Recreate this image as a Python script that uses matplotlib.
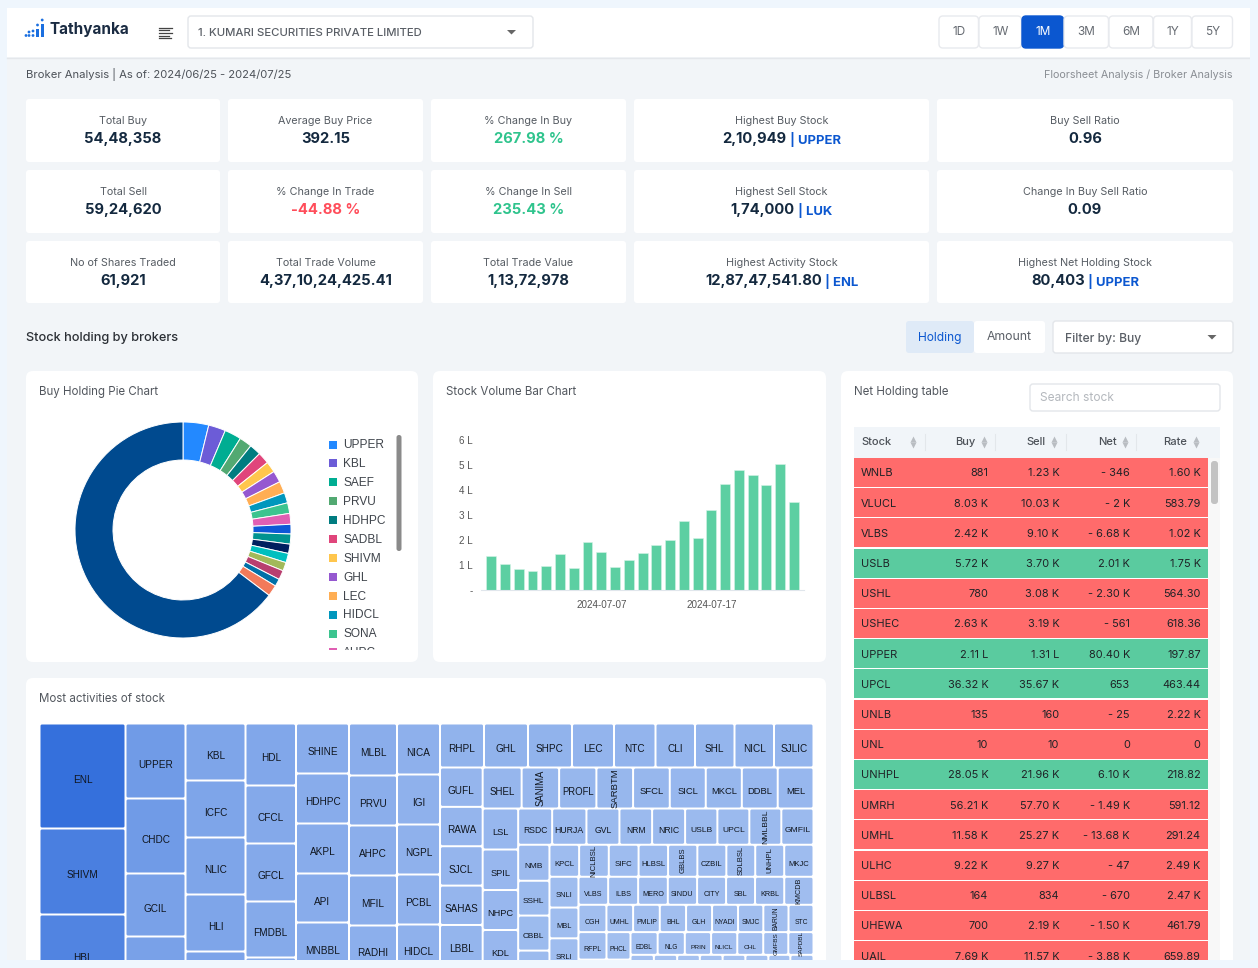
import numpy as np
import matplotlib
matplotlib.use("Agg")
import matplotlib.pyplot as plt
from matplotlib.patches import FancyBboxPatch, Rectangle, Circle
from matplotlib.colors import LinearSegmentedColormap, Normalize

plt.rcParams['font.family'] = ['Inter', 'DejaVu Sans']

# stat cards
card_titles = [["Total Buy", "Average Buy Price", "% Change In Buy", "Highest Buy Stock", "Buy Sell Ratio"],
               ["Total Sell", "% Change In Trade", "% Change In Sell", "Highest Sell Stock", "Change In Buy Sell Ratio"],
               ["No of Shares Traded", "Total Trade Volume", "Total Trade Value", "Highest Activity Stock", "Highest Net Holding Stock"]]
card_values = [["54,48,358", "392.15", "267.98 %", "2,10,949", "0.96"],
               ["59,24,620", "-44.88 %", "235.43 %", "1,74,000", "0.09"],
               ["61,921", "4,37,10,24,425.41", "1,13,72,978", "12,87,47,541.80", "80,403"]]
card_stocks = [["", "", "", "UPPER", ""], ["", "", "", "LUK", ""], ["", "", "", "ENL", "UPPER"]]

ranges = ["1D", "1W", "1M", "3M", "6M", "1Y", "5Y"]

# donut
pie_names = ["UPPER", "KBL", "SAEF", "PRVU", "HDHPC", "SADBL", "SHIVM", "GHL", "LEC", "HIDCL", "SONA", "AHPC"]
pie_values = [13.8, 9.2, 9, 6.8, 6.2, 6.3, 5.9, 6.2, 6.4, 5.5, 5.7, 5.8, 5.2, 5.4, 5, 5, 4.6, 5, 4, 6, 232.4]
pie_colors = ["#2389FF", "#6C5CD7", "#00AD92", "#52A972", "#007C80", "#E0457B", "#FFC64D", "#9558D0", "#FFAE54",
              "#0097BD", "#3CC48F", "#E05FB3", "#0D58D6", "#009390", "#00205F", "#00BFBF", "#A2B95A", "#B83F6F",
              "#0070A8", "#F27A5A", "#004A8F"]

# volume bars (lakh)
bar_dates = ["06-25", "06-26", "06-27", "06-30", "07-01", "07-02", "07-03", "07-04", "07-07", "07-08", "07-09", "07-10",
             "07-11", "07-14", "07-15", "07-16", "07-17", "07-18", "07-21", "07-22", "07-23", "07-24", "07-25"]
bar_volume = [1.37, 1.05, 0.84, 0.77, 0.97, 1.43, 0.91, 1.92, 1.53, 0.93, 1.21, 1.47,
              1.8, 2.01, 2.77, 2.08, 3.19, 4.23, 4.8, 4.59, 4.2, 5.03, 3.53]
bar_ticks = ["07-07", "07-17"]

# net holding table
tbl_stock = ["WNLB", "VLUCL", "VLBS", "USLB", "USHL", "USHEC", "UPPER", "UPCL", "UNLB", "UNL", "UNHPL", "UMRH", "UMHL",
             "ULHC", "ULBSL", "UHEWA", "UAIL"]
tbl_buy = ["881", "8.03 K", "2.42 K", "5.72 K", "780", "2.63 K", "2.11 L", "36.32 K", "135", "10", "28.05 K", "56.21 K",
           "11.58 K", "9.22 K", "164", "700", "7.69 K"]
tbl_sell = ["1.23 K", "10.03 K", "9.10 K", "3.70 K", "3.08 K", "3.19 K", "1.31 L", "35.67 K", "160", "10", "21.96 K",
            "57.70 K", "25.27 K", "9.27 K", "834", "2.19 K", "11.57 K"]
tbl_net = ["- 346", "- 2 K", "- 6.68 K", "2.01 K", "- 2.30 K", "- 561", "80.40 K", "653", "- 25", "0", "6.10 K",
           "- 1.49 K", "- 13.68 K", "- 47", "- 670", "- 1.50 K", "- 3.88 K"]
tbl_rate = ["1.60 K", "583.79", "1.02 K", "1.75 K", "564.30", "618.36", "197.87", "463.44", "2.22 K", "0", "218.82",
            "591.12", "291.24", "2.49 K", "2.47 K", "461.79", "659.89"]

# treemap, strips in squarify order, "" is a block scrolled out of view
tree_dirs = "vvvvvvvhvhvhvhvhhvvhh"
tree_names = [
    ["ENL", "SHIVM", "HBL", ""],
    ["UPPER", "CHDC", "GCIL", "", ""],
    ["KBL", "ICFC", "NLIC", "HLI", "", ""],
    ["HDL", "CFCL", "GFCL", "FMDBL", "", ""],
    ["SHINE", "HDHPC", "AKPL", "API", "MNBBL", "", ""],
    ["MLBL", "PRVU", "AHPC", "MFIL", "RADHI", "", ""],
    ["NICA", "IGI", "NGPL", "PCBL", "HIDCL", "", ""],
    ["RHPL", "GHL", "SHPC", "LEC", "NTC", "CLI", "SHL", "NICL", "SJLIC"],
    ["GUFL", "RAWA", "SJCL", "SAHAS", "LBBL", "", "", ""],
    ["SHEL", "SANIMA", "PROFL", "SARBTM", "SFCL", "SICL", "MKCL", "DDBL", "MEL"],
    ["LSL", "SPIL", "NHPC", "KDL", "", "", ""],
    ["RSDC", "HURJA", "GVL", "NRM", "NRIC", "USLB", "UPCL", "NMLBBL", "GMFIL"],
    ["NMB", "SSHL", "CBBL", "", "", "", ""],
    ["KPCL", "NICLBSL", "SIFC", "HLBSL", "GBLBS", "CZBIL", "SDLBSL", "UNHPL", "MKJC"],
    ["SNLI", "MBL", "SRLI", "", "", "", ""],
    ["VLBS", "ILBS", "MERO", "SINDU", "CITY", "SBL", "KRBL", "KMCDB"],
    ["CGH", "UMHL", "PMLIP", "BHL", "GLH", "NYADI", "SMJC", "BARUN", "STC"],
    ["RFPL", "", "", "", ""],
    ["PHCL", "", "", "", ""],
    ["EDBL", "NLG", "PRIN", "NLICL", "CHL", "GMFBS", "SAPDBL"],
    ["", "", "", "", "", "", "", ""],
]
tree_values = [
    [9030, 7396, 6880, 6450],
    [4500, 4500, 3780, 3780, 4200],
    [3420, 3420, 3420, 3420, 3540, 3540],
    [3131, 2929, 2929, 2828, 2828, 2828],
    [2650, 2650, 2650, 2597, 2597, 2597, 2597],
    [2496, 2400, 2400, 2400, 2304, 2304, 2304],
    [2193, 2150, 2150, 2150, 2064, 2064, 2107],
    [1936, 1936, 1936, 1848, 1826, 1738, 1738, 1738, 1738],
    [1679, 1679, 1679, 1679, 1700, 1488, 1488, 1488],
    [1599, 1538, 1529, 1505, 1505, 1476, 1480, 1472, 1468],
    [1456, 1438, 1420, 1420, 1178, 1178, 1178],
    [1231, 1242, 1195, 1184, 1195, 1169, 1158, 1158, 1166],
    [1127, 1089, 1096, 1089, 877, 877, 877],
    [950, 950, 954, 944, 938, 928, 925, 928, 938],
    [893, 893, 893, 728, 728, 728, 728],
    [832, 840, 832, 820, 812, 812, 818, 820],
    [764, 729, 729, 718, 710, 710, 691, 688, 683],
    [770, 770, 770, 770, 770],
    [660, 660, 660, 660, 660],
    [617, 617, 597, 595, 590, 570, 572],
    [468, 466, 454, 456, 456, 460, 440, 464],
]
tree_upright = ["SANIMA", "SARBTM", "NMLBBL", "NICLBSL", "GBLBS", "SDLBSL", "UNHPL", "KMCDB", "BARUN", "GMFBS", "SAPDBL"]

DARK = "#14293F"
GREY = "#565C63"
BLUE = "#0B57D0"

W, H = 1258, 968
fig = plt.figure(figsize=(W / 100, H / 100), dpi=100, facecolor="#EFF6FD")
ax = fig.add_axes([0, 0, 1, 1])
ax.set_xlim(0, W)
ax.set_ylim(H, 0)
ax.axis("off")


def box(x0, y0, x1, y1, color="white", r=3, edge="none", lw=0, z=1):
    p = FancyBboxPatch((x0, y0), x1 - x0, y1 - y0, boxstyle="round,pad=0,rounding_size=%s" % r,
                       fc=color, ec=edge, lw=lw, zorder=z)
    ax.add_patch(p)
    return p


def label(x, y, s, size=8, color=GREY, ha="left", weight="normal", z=5, **kw):
    return ax.text(x, y + 0.8, s, fontsize=size, color=color, ha=ha, va="center", fontweight=weight, zorder=z, **kw)


def caret(x, y, color="#666666"):
    ax.fill([x - 4.5, x + 4.5, x], [y - 2, y - 2, y + 2.5], color=color, lw=0, zorder=5)


def tree_cell(x, y, w, h, name, v):
    box(x + 1, y + 1, x + w - 1, y + h - 1, color=cmap(norm(v)), r=1.5, z=3)
    if name:
        fs = np.interp(v, [570, 850, 1200, 1700], [4.6, 5.3, 6.2, 7.2])
        upright = name in tree_upright
        label(x + w / 2, y + h / 2 + (-1 if upright else 3), name, size=fs, color="#10161F", ha="center",
              family="Liberation Sans", rotation=90 if upright else 0, rotation_mode="anchor", z=4)


# page
ax.add_patch(Rectangle((7, 8), 1243, 960, fc="#F2F5F8", zorder=0))
ax.add_patch(Rectangle((7, 8), 1243, 49, fc="white", zorder=1))
ax.plot([7, 1250], [57.5, 57.5], color="#E4E7EB", lw=1, zorder=2)

# logo
for lx, ly0, lw_ in [(40.5, 24, 3.5), (36, 28.5, 3)]:
    ax.add_patch(Rectangle((lx, ly0), lw_, 37 - ly0, fc="#1B6FE0", zorder=3))
for cx, cy in [(42.2, 20), (37.5, 25), (33, 35.5), (33, 31), (29, 35.5), (29, 32), (26, 35.5)]:
    ax.add_patch(Circle((cx, cy), 1.4, fc="#1B6FE0", zorder=3))
label(50, 28.5, "Tathyanka", size=11, color="#1A2B42", weight="bold")

# hamburger
for yy, xe in zip([27.5, 30.3, 33, 35.8, 38], [172, 169, 172, 169, 171]):
    ax.plot([159, xe], [yy, yy], color="#444444", lw=0.9, zorder=3)

box(188, 16, 533, 48, edge="#E3E6EA", lw=1, z=2)
label(198.5, 32.5, "1. KUMARI SECURITIES PRIVATE LIMITED", size=8.2, color="#5A5F66", weight="medium")
caret(511.5, 32)

# range buttons
btn_edges = [939, 979, 1022, 1064, 1109, 1153.5, 1192, 1233]
for i, name in enumerate(ranges):
    on = name == "1M"
    box(btn_edges[i], 16, btn_edges[i + 1] - 0.5, 48, color=BLUE if on else "white",
        edge=BLUE if on else "#E8EAEE", lw=1, r=4, z=2)
    label((btn_edges[i] + btn_edges[i + 1]) / 2, 31, name, size=8.5, color="white" if on else "#666B72", ha="center")

label(26, 73.5, "Broker Analysis | As of: 2024/06/25 - 2024/07/25", size=8.1, color="#4D5259")
label(1233, 73.5, "Floorsheet Analysis / Broker Analysis", size=7.75, color="#8A8E94", ha="right")

# cards
col_edges = [(26, 220), (228, 423), (431, 626), (634, 929), (937, 1233)]
row_edges = [(99, 162), (170, 233), (241, 303)]
rend = fig.canvas.get_renderer()
for r, (y0, y1) in enumerate(row_edges):
    for c, (x0, x1) in enumerate(col_edges):
        box(x0, y0, x1, y1, r=3, z=2)
        xc = (x0 + x1) / 2
        label(xc, y0 + 21, card_titles[r][c], size=7.75, color=GREY, ha="center")
        val = card_values[r][c]
        col = DARK
        if val.endswith("%"):
            col = "#FF4D5A" if val.startswith("-") else "#2FC48D"
        t1 = label(xc, y0 + 39.5, val, size=10.6, color=col, ha="center", weight="bold")
        stock = card_stocks[r][c]
        if stock:
            t2 = label(xc, y0 + 40, " | " + stock, size=9.4, color=BLUE, weight="bold")
            w1 = t1.get_window_extent(rend).width
            w2 = t2.get_window_extent(rend).width
            t1.set_ha("left")
            t1.set_x(xc - (w1 + w2) / 2)
            t2.set_x(xc - (w1 + w2) / 2 + w1)

# holding row
label(26, 337, "Stock holding by brokers", size=9.2, color="#2B2F35", weight="medium")
box(906, 321, 974, 353, color="#DFEAF7", r=3, z=2)
box(974, 321, 1045, 353, r=3, z=2)
label(940, 337, "Holding", size=8.6, color=BLUE, ha="center")
label(1009.5, 336.5, "Amount", size=8.8, color="#5A5F66", ha="center")
box(1053, 321, 1233, 353, edge="#E3E6EA", lw=1, z=2)
label(1065, 338, "Filter by: Buy", size=8.7, color="#5A5F66", weight="medium")
caret(1212, 337)

# panels
box(26, 371, 418, 662, r=7, z=2)
box(433, 371, 826, 662, r=7, z=2)
box(841, 371, 1233, 990, r=7, z=2)
box(26, 678, 826, 990, r=7, z=2)
label(39, 391.5, "Buy Holding Pie Chart", size=8.3, color="#52575E")
label(446, 391.5, "Stock Volume Bar Chart", size=8.3, color="#52575E")
label(854, 391.5, "Net Holding table", size=8.3, color="#52575E")
label(39, 698.5, "Most activities of stock", size=8.3, color="#52575E")

# donut
axp = fig.add_axes([(183 - 108) / W, 1 - (530 + 108) / H, 216 / W, 216 / H])
axp.pie(pie_values, colors=pie_colors, startangle=90, counterclock=False, radius=1,
        wedgeprops=dict(width=38 / 108, edgecolor="white", linewidth=0.7))
axp.set_xlim(-1.0, 1.0)
axp.set_ylim(-1.0, 1.0)
axp.set_zorder(3)

for i, name in enumerate(pie_names):
    ly = 444.5 + i * 18.9
    ax.add_patch(Rectangle((329, ly - 4), 8, 8, fc=pie_colors[i], zorder=3))
    label(343, ly, name, size=8.6, color="#3F444B", family="Liberation Sans", z=3)
ax.add_patch(Rectangle((325, 650), 70, 10, fc="white", zorder=4))
box(396.5, 435, 401.5, 551, color="#8A8A8A", r=2.4, z=4)

# bars
axb = fig.add_axes([481 / W, 1 - 590.3 / H, 323 / W, 150.3 / H])
axb.patch.set_alpha(0)
axb.set_zorder(3)
xs = np.arange(len(bar_volume))
axb.bar(xs, bar_volume, width=0.72, color="#5CCFA2", edgecolor="#D5F3E7", linewidth=0.4)
axb.set_xlim(-0.74, 22.73)
axb.set_ylim(0, 6)
axb.set_yticks(range(7))
axb.set_yticklabels(["-", "1 L", "2 L", "3 L", "4 L", "5 L", "6 L"], fontsize=7.1, color="#555555",
                    family="Liberation Sans")
axb.set_xticks([bar_dates.index(d) for d in bar_ticks])
axb.set_xticklabels(["2024-" + d for d in bar_ticks], fontsize=7.1, color="#555555", family="Liberation Sans")
axb.tick_params(length=0, axis="y", pad=6)
axb.tick_params(length=0, axis="x", pad=7)
for s in ["top", "left", "right"]:
    axb.spines[s].set_visible(False)
axb.spines["bottom"].set_color("#E0E6EC")

# search + table
box(1030, 384, 1220, 411, edge="#E3E6EA", lw=1, z=3)
label(1040, 397, "Search stock", size=8.6, color="#B4B8BD")
ax.add_patch(Rectangle((854, 427), 366, 31, fc="#F1F5F9", zorder=3))
for xs_, name, tx, arrow in [(861, "Stock", "left", 913), (975, "Buy", "right", 983.7), (1046, "Sell", "right", 1054.3),
                             (1116.7, "Net", "right", 1125), (1187, "Rate", "right", 1196)]:
    label(xs_, 441.5, name, size=8, color="#4D5259", ha=tx, weight="medium")
    ax.plot([arrow], [439], marker="^", ms=4, color="#B9BDC2", mec="none", zorder=5)
    ax.plot([arrow], [445], marker="v", ms=4, color="#B9BDC2", mec="none", zorder=5)
for sx in [924.5, 995, 1065.7, 1136]:
    ax.plot([sx, sx], [434, 450], color="#E3E7EB", lw=0.8, zorder=4)
ax.add_patch(Rectangle((1208, 458), 12, 510, fc="#F8F8F8", zorder=3))
box(1211, 461, 1218, 504, color="#C2C2C2", r=3, z=4)

for i, st in enumerate(tbl_stock):
    y0 = 458 + i * 30.2
    net = tbl_net[i]
    up = not net.startswith("-") and net != "0"
    ax.add_patch(Rectangle((854, y0), 354, 29, fc="#5ACB9F" if up else "#FF6B6B", zorder=3))
    yc = y0 + 14.6
    label(861, yc, st, size=7.9, color="#1E2226")
    for rx, col_vals in zip([988.3, 1059.3, 1130, 1200.7], [tbl_buy, tbl_sell, tbl_net, tbl_rate]):
        label(rx, yc, col_vals[i], size=7.9, color="#1E2226", ha="right")

# treemap
cmap = LinearSegmentedColormap.from_list("tree", ["#A5C1F0", "#3570DC"])
norm = Normalize(400, 9030)
tx, ty, tw, th = 39.5, 723.5, 774.0, 346.0
for d, names, vals in zip(tree_dirs, tree_names, tree_values):
    total = sum(vals)
    if d == "v":
        thick = total / th
        cy = ty
        for n, v in zip(names, vals):
            tree_cell(tx, cy, thick, v / thick, n, v)
            cy += v / thick
        tx += thick
        tw -= thick
    else:
        thick = total / tw
        cx = tx
        for n, v in zip(names, vals):
            tree_cell(cx, ty, v / thick, thick, n, v)
            cx += v / thick
        ty += thick
        th -= thick

# the screenshot stops here
ax.add_patch(Rectangle((0, 960), W, 8, fc="#EFF6FD", zorder=8))
ax.add_patch(Rectangle((1250, 0), 8, H, fc="#EFF6FD", zorder=8))

plt.savefig("out.png", dpi=100)
